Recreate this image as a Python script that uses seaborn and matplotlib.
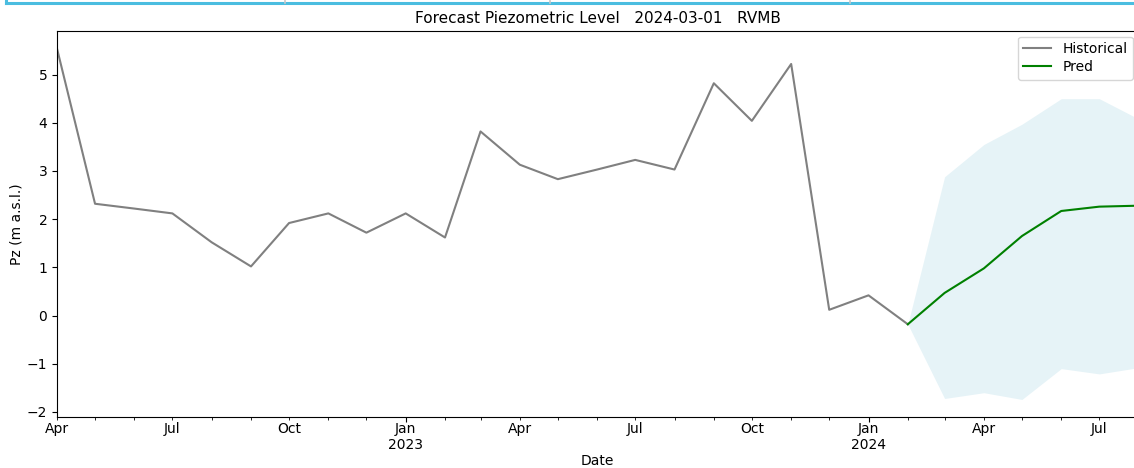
import matplotlib
matplotlib.use("Agg")
import matplotlib.pyplot as plt
import matplotlib.dates as mdates
from matplotlib.lines import Line2D
import numpy as np
import pandas as pd
import seaborn as sns

# Observed monthly piezometric levels (m a.s.l.), Apr 2022 - Feb 2024
hist_start = "2022-04-01"
hist_values = [5.54, 2.32, 2.22, 2.12, 1.52, 1.02, 1.92, 2.12, 1.72, 2.12, 1.62, 3.82,
               3.13, 2.83, 3.03, 3.23, 3.03, 4.82, 4.04, 5.22, 0.12, 0.42, -0.18]

# Forecast (anchored on last observation), Feb 2024 - Aug 2024
pred_start = "2024-02-01"
pred_values = [-0.18, 0.47, 0.98, 1.65, 2.17, 2.26, 2.28]
pred_lower = [-0.18, -1.72, -1.60, -1.74, -1.10, -1.21, -1.08]
pred_upper = [-0.18, 2.88, 3.55, 3.97, 4.50, 4.50, 4.08]

title_text = "Forecast Piezometric Level   2024-03-01   RVMB"

hist = pd.DataFrame({
    "Date": pd.date_range(hist_start, periods=len(hist_values), freq="MS"),
    "Pz": hist_values,
})
pred = pd.DataFrame({
    "Date": pd.date_range(pred_start, periods=len(pred_values), freq="MS"),
    "Pz": pred_values,
    "lo": pred_lower,
    "hi": pred_upper,
})

plt.rcParams["font.family"] = ["DejaVu Sans"]
plt.rcParams["font.size"] = 10

fig = plt.figure(figsize=(11.34, 4.68), dpi=100)
ax = fig.add_axes([57 / 1134, 51 / 468, (1138.6 - 57) / 1134, (417 - 31) / 468])

ax.fill_between(pred["Date"], pred["lo"], pred["hi"], color="lightblue", alpha=0.3,
                linewidth=0)
sns.lineplot(data=hist, x="Date", y="Pz", ax=ax, color="grey", linewidth=1.5,
             label="Historical")
sns.lineplot(data=pred, x="Date", y="Pz", ax=ax, color="green", linewidth=1.5,
             label="Pred")

ax.set_xlim(hist["Date"].iloc[0], pred["Date"].iloc[-1])
ax.margins(y=0.05)

# Pandas-style date axis: years on major ticks, quarter months on minor ticks
ax.xaxis.set_major_locator(mdates.YearLocator())
ax.xaxis.set_major_formatter(mdates.DateFormatter("%b\n%Y"))
ax.xaxis.set_minor_locator(mdates.MonthLocator())


def minor_fmt(x, pos=None):
    d = mdates.num2date(x)
    return d.strftime("%b") if d.month in (4, 7, 10) else ""


ax.xaxis.set_minor_formatter(plt.FuncFormatter(minor_fmt))
ax.tick_params(axis="x", which="major", pad=0)
ax.tick_params(axis="x", which="minor", pad=1.5)

ax.set_xlabel("Date", labelpad=1.5)
ax.set_ylabel("Pz (m a.s.l.)", labelpad=2)
ax.set_title(title_text, fontsize=11)
ax.legend(loc="upper right", labelspacing=0.28, borderaxespad=0.4)

# Frame strip along the top edge
fig.add_artist(Line2D([6 / 1134, 1.0], [1 - 3 / 468, 1 - 3 / 468], color="#4bbde0",
                      linewidth=2.2, transform=fig.transFigure))
fig.add_artist(Line2D([6 / 1134, 6 / 1134], [1.0, 1 - 3 / 468], color="#4bbde0",
                      linewidth=2.2, transform=fig.transFigure))
for xs in (285, 550, 850):
    fig.add_artist(Line2D([xs / 1134, xs / 1134], [1.0, 1 - 3 / 468], color="#c8c8c8",
                          linewidth=1.2, transform=fig.transFigure))

fig.savefig("out.png", dpi=100)
